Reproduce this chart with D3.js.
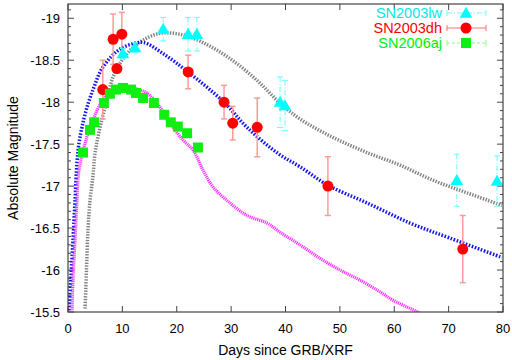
<!DOCTYPE html>
<html>
<head>
<meta charset="utf-8">
<script src="https://cdn.jsdelivr.net/npm/d3@7"></script>
<style>
  body { margin: 0; background: #fff; }
  text { font-family: "Liberation Sans", Arial, sans-serif; }
</style>
</head>
<body>
<div id="chart"></div>
<script>
// observed points
const lwDays = [10.1, 12.3, 17.5, 22.1, 23.7, 39.0, 39.9, 71.5, 78.9]
const lwMag  = [-18.58, -18.65, -18.87, -18.81, -18.81, -18.0, -17.96, -17.07, -17.06]
const lwErr  = [0.06, 0.06, 0.14, 0.2, 0.2, 0.3, 0.3, 0.31, 0.3]

const dhDays = [6.4, 8.3, 9.9, 9.0, 22.1, 28.7, 30.3, 34.8, 47.8, 72.6]
const dhMag  = [-18.15, -18.75, -18.81, -18.40, -18.36, -18.0, -17.75, -17.70, -17.0, -16.25]
const dhErr  = [0.35, 0.3, 0.26, 0.04, 0.2, 0.2, 0.2, 0.35, 0.35, 0.4]

const ajDays = [2.76, 4.05, 4.8, 6.6, 7.7, 8.8, 10.1, 11.6, 12.5, 13.8, 15.8, 17.7, 18.9, 20.2, 21.9, 23.9]
const ajMag  = [-17.40, -17.67, -17.76, -17.99, -18.10, -18.15, -18.17, -18.15, -18.11, -18.05, -17.99, -17.85, -17.76, -17.71, -17.63, -17.46]

// model light curves
const lwModelDays = [3.13, 3.4, 3.68, 4.05, 4.6, 4.97, 5.89, 7.17, 8.28, 9.93, 11.77, 13.79, 16.92, 20.6, 24.83, 29.79, 34.76, 38.99, 42.67, 48.74, 54.99, 61.06, 67.13, 73.38, 79.82]
const lwModelMag  = [-15.54, -16.0, -16.48, -16.83, -17.13, -17.39, -17.70, -18.02, -18.30, -18.50, -18.64, -18.74, -18.82, -18.81, -18.71, -18.52, -18.26, -17.99, -17.80, -17.58, -17.40, -17.25, -17.07, -16.92, -16.77]

const dhModelDays = [0.18, 0.55, 0.92, 1.29, 1.66, 2.02, 2.57, 3.49, 4.78, 6.07, 7.91, 9.75, 12.14, 13.98, 17.47, 22.07, 28.69, 32.92, 38.62, 42.67, 47.82, 54.99, 62.9, 70.25, 79.82]
const dhModelMag  = [-15.52, -15.94, -16.36, -16.83, -17.29, -17.51, -17.70, -17.94, -18.18, -18.38, -18.54, -18.64, -18.70, -18.71, -18.58, -18.36, -18.0, -17.70, -17.39, -17.23, -17.01, -16.80, -16.56, -16.38, -16.15]

const ajModelDays = [0.74, 0.92, 1.29, 1.66, 2.02, 3.31, 4.78, 6.07, 7.17, 9.01, 10.85, 13.43, 14.53, 16.92, 18.76, 21.15, 22.99, 24.83, 26.67, 29.24, 32.92, 36.6, 38.99, 42.67, 46.34, 50.02, 53.7, 57.38, 59.77, 64.74]
const ajModelMag  = [-15.52, -15.88, -16.36, -16.83, -17.19, -17.55, -17.82, -17.99, -18.08, -18.17, -18.19, -18.14, -18.11, -17.94, -17.75, -17.55, -17.43, -17.19, -16.99, -16.83, -16.65, -16.56, -16.45, -16.30, -16.14, -16.0, -15.88, -15.74, -15.64, -15.49]

const xTicks = [0, 10, 20, 30, 40, 50, 60, 70, 80]
const yTicks = [-19, -18.5, -18, -17.5, -17, -16.5, -16, -15.5]
const legendNames = ["SN2003lw", "SN2003dh", "SN2006aj"]

const W = 512, H = 360
const margin = {left: 68, right: 9, top: 4, bottom: 48}

const svg = d3.select("#chart")
  .append("svg")
    .attr("width", W)
    .attr("height", H)

const x = d3.scaleLinear().domain([0, 80]).range([margin.left, W - margin.right])
const y = d3.scaleLinear().domain([-15.5, -19.17]).range([H - margin.bottom, margin.top])

const frameColor = "#444"

svg.append("clipPath").attr("id", "clip")
  .append("rect")
    .attr("x", margin.left).attr("y", margin.top)
    .attr("width", W - margin.left - margin.right)
    .attr("height", H - margin.top - margin.bottom)

// ticks (gnuplot style: pointing inward, mirrored)
const minorY = d3.range(-19.1, -15.5, 0.1).map(v => +v.toFixed(1))
const tk = svg.append("g").attr("stroke", frameColor).attr("stroke-width", 1)
minorY.forEach(v => {
  const major = yTicks.includes(v)
  const len = major ? 6 : 3
  tk.append("line").attr("x1", x(0)).attr("x2", x(0) + len).attr("y1", y(v)).attr("y2", y(v))
  tk.append("line").attr("x1", x(80)).attr("x2", x(80) - len).attr("y1", y(v)).attr("y2", y(v))
})
xTicks.forEach(v => {
  tk.append("line").attr("x1", x(v)).attr("x2", x(v)).attr("y1", y(-15.5)).attr("y2", y(-15.5) - 6)
  tk.append("line").attr("x1", x(v)).attr("x2", x(v)).attr("y1", margin.top).attr("y2", margin.top + 6)
})

// tick labels
svg.append("g").selectAll("text")
  .data(xTicks)
  .join("text")
    .attr("x", d => x(d))
    .attr("y", H - margin.bottom + 21)
    .attr("text-anchor", "middle")
    .style("font-size", "13px")
    .text(d => d)

svg.append("g").selectAll("text")
  .data(yTicks)
  .join("text")
    .attr("x", margin.left - 8)
    .attr("y", d => y(d) + 4.5)
    .attr("text-anchor", "end")
    .style("font-size", "13px")
    .text(d => d)

svg.append("text")
  .attr("x", (margin.left + W - margin.right) / 2)
  .attr("y", H - 5)
  .attr("text-anchor", "middle")
  .style("font-size", "14px")
  .text("Days since GRB/XRF")

svg.append("text")
  .attr("transform", `translate(18, ${(margin.top + H - margin.bottom) / 2}) rotate(-90)`)
  .attr("text-anchor", "middle")
  .style("font-size", "14px")
  .text("Absolute Magnitude")

// model curves
const plot = svg.append("g").attr("clip-path", "url(#clip)")
const line = d3.line().x(d => x(d[0])).y(d => y(d[1])).curve(d3.curveCatmullRom)

plot.append("path")
  .datum(d3.zip(lwModelDays, lwModelMag))
  .attr("d", line)
  .attr("fill", "none")
  .attr("stroke", "#808080")
  .attr("stroke-width", 3.5)
  .attr("stroke-dasharray", "1.4,1.4")

plot.append("path")
  .datum(d3.zip(dhModelDays, dhModelMag))
  .attr("d", line)
  .attr("fill", "none")
  .attr("stroke", "#1414f0")
  .attr("stroke-width", 3.5)
  .attr("stroke-dasharray", "1.6,1.6")

plot.append("path")
  .datum(d3.zip(ajModelDays, ajModelMag))
  .attr("d", line)
  .attr("fill", "none")
  .attr("stroke", "#ff33ff")
  .attr("stroke-width", 3.2)
  .attr("stroke-dasharray", "1.2,0.8")

// error bars
function errBars(days, mag, err, color, dash, sw) {
  const g = plot.append("g").attr("stroke", color).attr("stroke-width", sw)
  days.forEach((d, i) => {
    const cx = x(d), y1 = y(mag[i] - err[i]), y2 = y(mag[i] + err[i])
    g.append("line").attr("x1", cx).attr("x2", cx).attr("y1", y1).attr("y2", y2)
      .attr("stroke-dasharray", dash)
    g.append("line").attr("x1", cx - 3).attr("x2", cx + 3).attr("y1", y1).attr("y2", y1)
    g.append("line").attr("x1", cx - 3).attr("x2", cx + 3).attr("y1", y2).attr("y2", y2)
  })
}
errBars(lwDays, lwMag, lwErr, "#66ffff", "5,2,1,2", 1)
errBars(dhDays, dhMag, dhErr, "#ff9a9a", null, 1.5)

// points
const tri = d3.symbol().type(d3.symbolTriangle).size(70)
plot.append("g").selectAll("path")
  .data(d3.zip(lwDays, lwMag))
  .join("path")
    .attr("d", tri)
    .attr("transform", d => `translate(${x(d[0])},${y(d[1]) + 1})`)
    .attr("fill", "#00ffff")

plot.append("g").selectAll("circle")
  .data(d3.zip(dhDays, dhMag))
  .join("circle")
    .attr("cx", d => x(d[0]))
    .attr("cy", d => y(d[1]))
    .attr("r", 5.5)
    .attr("fill", "#ff0000")

plot.append("g").selectAll("rect")
  .data(d3.zip(ajDays, ajMag))
  .join("rect")
    .attr("x", d => x(d[0]) - 5)
    .attr("y", d => y(d[1]) - 5)
    .attr("width", 10)
    .attr("height", 10)
    .attr("fill", "#11ee11")

// frame
svg.append("rect")
  .attr("x", margin.left).attr("y", margin.top)
  .attr("width", W - margin.left - margin.right)
  .attr("height", H - margin.top - margin.bottom)
  .attr("fill", "none")
  .attr("stroke", frameColor)
  .attr("stroke-width", 1.2)

// legend
const legColors = ["#00e8e8", "#ff0000", "#00ee00"]
const legLine = ["#66ffff", "#ff7070", "#88ff88"]
const legDash = ["5,2,1,2", null, "3,2"]
const leg = svg.append("g")
legendNames.forEach((name, i) => {
  const cy = 13 + i * 15
  leg.append("text")
    .attr("x", 442).attr("y", cy + 5)
    .attr("text-anchor", "end")
    .style("font-size", "14.5px")
    .attr("fill", legColors[i])
    .text(name)
  const g = leg.append("g").attr("stroke", legLine[i]).attr("stroke-width", 1)
  g.append("line").attr("x1", 447).attr("x2", 486).attr("y1", cy).attr("y2", cy)
    .attr("stroke-dasharray", legDash[i])
  g.append("line").attr("x1", 447).attr("x2", 447).attr("y1", cy - 3).attr("y2", cy + 3)
  g.append("line").attr("x1", 486).attr("x2", 486).attr("y1", cy - 3).attr("y2", cy + 3)
})
leg.append("path").attr("d", tri).attr("transform", "translate(466,14)").attr("fill", "#00ffff")
leg.append("circle").attr("cx", 466).attr("cy", 28).attr("r", 5.5).attr("fill", "#ff0000")
leg.append("rect").attr("x", 461).attr("y", 38).attr("width", 10).attr("height", 10).attr("fill", "#11ee11")
</script>
</body>
</html>
